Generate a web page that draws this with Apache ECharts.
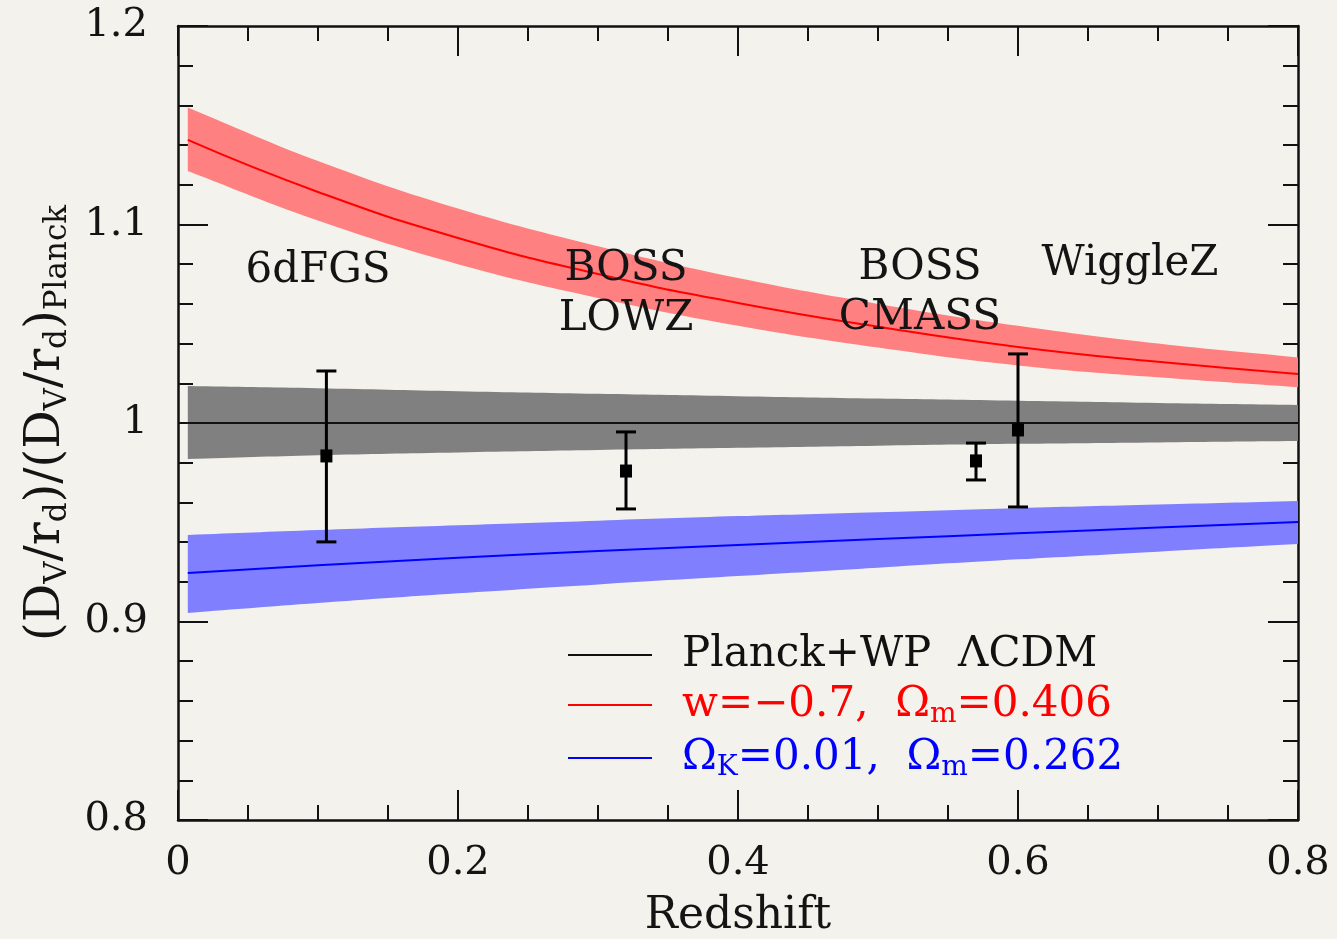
<!DOCTYPE html>
<html>
<head>
<meta charset="utf-8">
<title>BAO distance ratio</title>
<script src="https://cdn.jsdelivr.net/npm/echarts@6/dist/echarts.min.js"></script>
<style>
  html, body { margin: 0; padding: 0; background: #f4f2ec; }
  #chart { width: 1337px; height: 939px; }
</style>
</head>
<body>
<div id="chart"></div>
<script>
  // redshift grid the model curves were read at
  var bandZ = [0.007, 0.1, 0.2, 0.3, 0.4, 0.5, 0.6, 0.7, 0.8];

  // Planck+WP LCDM (reference model) and its band
  var planckLine  = [1, 1, 1, 1, 1, 1, 1, 1, 1];
  var planckUpper = [1.0186, 1.0175, 1.0160, 1.0147, 1.0135, 1.0123, 1.0112, 1.0101, 1.0091];
  var planckLower = [0.9819, 0.9838, 0.9852, 0.9864, 0.9875, 0.9886, 0.9895, 0.9902, 0.9909];

  // w = -0.7, Om = 0.406
  var wLine  = [1.1426, 1.1164, 1.0932, 1.0751, 1.0605, 1.0485, 1.0383, 1.0308, 1.0247];
  var wUpper = [1.159, 1.132, 1.108, 1.089, 1.073, 1.060, 1.049, 1.040, 1.033];
  var wLower = [1.127, 1.102, 1.080, 1.063, 1.049, 1.038, 1.029, 1.023, 1.018];

  // OK = 0.01, Om = 0.262
  var kLine  = [0.9244, 0.9283, 0.9321, 0.9355, 0.9385, 0.9415, 0.9444, 0.9473, 0.9501];
  var kUpper = [0.9436, 0.9461, 0.9485, 0.9508, 0.9531, 0.9551, 0.9571, 0.9589, 0.9607];
  var kLower = [0.9043, 0.9093, 0.9142, 0.9187, 0.9229, 0.9271, 0.9313, 0.9352, 0.9390];

  // BAO measurements
  var surveyZ     = [0.106, 0.32, 0.57, 0.60];
  var surveyValue = [0.9834, 0.9758, 0.9809, 0.9965];
  var surveyLow   = [0.9401, 0.9567, 0.9713, 0.9577];
  var surveyHigh  = [1.0262, 0.9955, 0.9899, 1.0348];

  // survey name annotations
  var labelNames = ['6dFGS', 'BOSS\nLOWZ', 'BOSS\nCMASS', 'WiggleZ'];
  var labelZ     = [0.1, 0.32, 0.53, 0.68];
  var labelValue = [1.0766, 1.065, 1.0655, 1.0801];

  var xTicks = [0, 0.2, 0.4, 0.6, 0.8];
  var yTicks = [0.8, 0.9, 1.0, 1.1, 1.2];

  var SERIF = "'DejaVu Serif', 'Liberation Serif', serif"
    , INK = '#111111'
    , TEXT = '#141414'
    , RED = '#ff0000'
    , BLUE = '#0000ff';

  function pairs(xs, ys) {
    return xs.map(function (x, i) { return [x, ys[i]]; });
  }

  // shaded band between two curves; end points are doubled so the
  // smoothed outline keeps square vertical ends
  function bandSeries(upper, lower, color) {
    return {
      type: 'custom',
      silent: true,
      z: 1,
      data: [[bandZ[0], upper[0]]],
      renderItem: function (params, api) {
        var pts = [], n = bandZ.length, i, p;
        for (i = 0; i < n; i++) {
          p = api.coord([bandZ[i], upper[i]]);
          pts.push(p);
          if (i === 0 || i === n - 1) pts.push(p.slice());
        }
        for (i = n - 1; i >= 0; i--) {
          p = api.coord([bandZ[i], lower[i]]);
          pts.push(p);
          if (i === 0 || i === n - 1) pts.push(p.slice());
        }
        return { type: 'polygon', shape: { points: pts, smooth: 0.4 }, style: { fill: color } };
      }
    };
  }

  function lineSeries(name, values, color) {
    return {
      type: 'line',
      name: name,
      data: pairs(bandZ, values),
      smooth: true,
      symbol: 'none',
      z: 2,
      silent: true,
      lineStyle: { color: color, width: 2 },
      itemStyle: { color: color }
    };
  }

  var errorData = surveyZ.map(function (z, i) { return [z, surveyLow[i], surveyHigh[i]]; });

  var tickLine = { color: INK, width: 2 };

  function frameAxis(position, extra) {
    return Object.assign({
      type: 'value',
      position: position,
      axisLine: { show: true, onZero: false, lineStyle: { color: INK, width: 2.5 } },
      axisTick: { show: true, inside: true, length: 30, lineStyle: tickLine },
      minorTick: { show: true, length: 15, lineStyle: tickLine },
      splitLine: { show: false },
      axisLabel: { show: false }
    }, extra);
  }

  var labelFont = { fontFamily: SERIF, fontSize: 40, color: TEXT };

  // subscript text style: sits at the bottom of the line box
  function sub(color, size) {
    return { fontFamily: SERIF, fontSize: size, color: color, lineHeight: 2, verticalAlign: 'bottom' };
  }
  function main(color, size, lh) {
    return { fontFamily: SERIF, fontSize: size, color: color, lineHeight: lh, verticalAlign: 'middle' };
  }

  var option = {
    backgroundColor: '#f4f2ec',
    animation: false,
    grid: { left: 178, right: 39, top: 26, bottom: 119, outerBoundsMode: 'none' },
    xAxis: [
      frameAxis('bottom', {
        min: xTicks[0], max: xTicks[xTicks.length - 1], interval: 0.2,
        minorTick: { show: true, splitNumber: 4, length: 15, lineStyle: tickLine },
        axisLabel: Object.assign({ show: true, margin: 24 }, labelFont),
        name: 'Redshift',
        nameLocation: 'middle',
        nameGap: 75,
        nameTextStyle: { fontFamily: SERIF, fontSize: 44, color: TEXT }
      }),
      frameAxis('top', {
        min: xTicks[0], max: xTicks[xTicks.length - 1], interval: 0.2,
        minorTick: { show: true, splitNumber: 4, length: 15, lineStyle: tickLine }
      })
    ],
    yAxis: [
      frameAxis('left', {
        min: yTicks[0], max: yTicks[yTicks.length - 1], interval: 0.1,
        minorTick: { show: true, splitNumber: 5, length: 15, lineStyle: tickLine },
        axisLabel: Object.assign({ show: true, margin: 30 }, labelFont),
        name: '{m|(D}{s|V}{m|/r}{s|d}{m|)/(D}{s|V}{m|/r}{s|d}{m|)}{s|Planck}',
        nameLocation: 'middle',
        nameGap: 104,
        nameTextStyle: {
          rich: { m: main(TEXT, 48, 54), s: sub(TEXT, 31) }
        }
      }),
      frameAxis('right', {
        min: yTicks[0], max: yTicks[yTicks.length - 1], interval: 0.1,
        minorTick: { show: true, splitNumber: 5, length: 15, lineStyle: tickLine }
      })
    ],
    legend: {
      orient: 'vertical',
      left: 563,
      top: 629,
      icon: 'rect',
      itemWidth: 84,
      itemHeight: 2,
      itemGap: 8,
      selectedMode: false,
      data: ['Planck+WP ΛCDM', 'w=−0.7, Ωm=0.406', 'ΩK=0.01, Ωm=0.262'],
      formatter: function (name) {
        if (name === 'Planck+WP ΛCDM') return '{sp| }{k|Planck+WP  ΛCDM}';
        if (name.charAt(0) === 'w') return '{sp| }{r|w=−0.7,  Ω}{rs|m}{r|=0.406}';
        return '{sp| }{b|Ω}{bs|K}{b|=0.01,  Ω}{bs|m}{b|=0.262}';
      },
      textStyle: {
        rich: {
          sp: { width: 25, fontSize: 10, lineHeight: 48 },
          k: main(INK, 42, 48),
          r: main(RED, 42, 48),
          rs: sub(RED, 28),
          b: main(BLUE, 42, 48),
          bs: sub(BLUE, 28)
        }
      }
    },
    series: [
      bandSeries(planckUpper, planckLower, '#808080'),
      bandSeries(wUpper, wLower, '#ff8080'),
      bandSeries(kUpper, kLower, '#8080ff'),
      lineSeries('Planck+WP ΛCDM', planckLine, INK),
      lineSeries('w=−0.7, Ωm=0.406', wLine, RED),
      lineSeries('ΩK=0.01, Ωm=0.262', kLine, BLUE),
      {
        type: 'custom',
        silent: true,
        z: 3,
        data: errorData,
        encode: { x: 0, y: [1, 2] },
        renderItem: function (params, api) {
          var lo = api.coord([api.value(0), api.value(1)])
            , hi = api.coord([api.value(0), api.value(2)])
            , half = 10
            , style = { stroke: '#000', lineWidth: 3 };
          return {
            type: 'group',
            children: [
              { type: 'line', shape: { x1: hi[0], y1: hi[1], x2: lo[0], y2: lo[1] }, style: style },
              { type: 'line', shape: { x1: hi[0] - half, y1: hi[1], x2: hi[0] + half, y2: hi[1] }, style: style },
              { type: 'line', shape: { x1: lo[0] - half, y1: lo[1], x2: lo[0] + half, y2: lo[1] }, style: style }
            ]
          };
        }
      },
      {
        type: 'scatter',
        silent: true,
        z: 4,
        symbol: 'rect',
        symbolSize: [12, 13],
        itemStyle: { color: '#000', opacity: 1 },
        data: pairs(surveyZ, surveyValue)
      },
      {
        type: 'scatter',
        silent: true,
        z: 5,
        symbolSize: 1,
        itemStyle: { color: 'rgba(0,0,0,0)', opacity: 1 },
        data: labelZ.map(function (z, i) { return { value: [z, labelValue[i]], name: labelNames[i] }; }),
        label: {
          show: true,
          position: 'inside',
          formatter: '{b}',
          fontFamily: SERIF,
          fontSize: 42,
          lineHeight: 50,
          align: 'center',
          color: TEXT
        }
      }
    ]
  };

  var chart = echarts.init(document.getElementById('chart'));
  chart.setOption(option);
</script>
</body>
</html>
